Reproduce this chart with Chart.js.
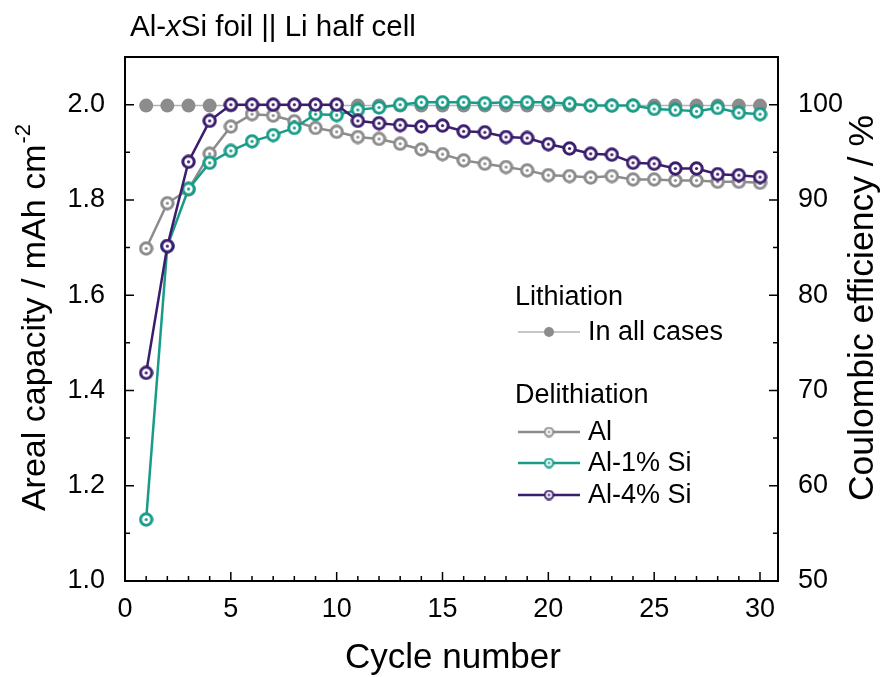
<!DOCTYPE html>
<html>
<head>
<meta charset="utf-8">
<script src="https://cdn.jsdelivr.net/npm/chart.js@4.4.1/dist/chart.umd.min.js"></script>
<style>
  html, body { margin: 0; padding: 0; background: #fff; }
  #wrap { width: 885px; height: 677px; }
</style>
</head>
<body>
<div id="wrap"><canvas id="capchart"></canvas></div>
<script>
// cycle index
var cycles = [1, 2, 3, 4, 5, 6, 7, 8, 9, 10, 11, 12, 13, 14, 15,
              16, 17, 18, 19, 20, 21, 22, 23, 24, 25, 26, 27, 28, 29, 30];

// areal capacity, mAh cm-2 (lithiation is the same for every foil)
var lithiation = [1.998, 1.998, 1.998, 1.998, 1.998, 1.998, 1.998, 1.998, 1.998, 1.998,
                  1.998, 1.998, 1.998, 1.998, 1.998, 1.998, 1.998, 1.998, 1.998, 1.998,
                  1.998, 1.998, 1.998, 1.998, 1.998, 1.998, 1.998, 1.998, 1.998, 1.998];
var delithAl = [1.698, 1.793, 1.822, 1.897, 1.954, 1.980, 1.977, 1.965, 1.951, 1.943,
                1.932, 1.928, 1.918, 1.906, 1.896, 1.883, 1.876, 1.869, 1.862, 1.852,
                1.850, 1.847, 1.850, 1.843, 1.843, 1.841, 1.841, 1.838, 1.838, 1.836];
var delithAl1Si = [1.129, 1.703, 1.823, 1.878, 1.903, 1.923, 1.936, 1.951, 1.980, 1.978,
                   1.989, 1.994, 2.000, 2.005, 2.005, 2.005, 2.003, 2.005, 2.005, 2.005,
                   2.002, 1.998, 1.998, 1.998, 1.991, 1.989, 1.986, 1.993, 1.983, 1.980];
var delithAl4Si = [1.437, 1.703, 1.880, 1.966, 2.000, 2.000, 2.000, 2.000, 2.000, 2.000,
                   1.966, 1.961, 1.957, 1.954, 1.956, 1.944, 1.942, 1.932, 1.930, 1.917,
                   1.908, 1.897, 1.895, 1.878, 1.876, 1.866, 1.866, 1.854, 1.852, 1.848];

var GREY = '#8c8c8c';
var LIGHT_GREY = '#b3b3b3';
var TEAL = '#189c87';
var PURPLE = '#3b1d6e';
var FONT = '"Liberation Sans", Arial, sans-serif';

// open ring with a small dot in the middle
function ringMarker(color, size, lw) {
    var c = document.createElement('canvas');
    c.width = size; c.height = size;
    var g = c.getContext('2d');
    var r = size / 2;
    g.beginPath();
    g.arc(r, r, r - lw / 2 - 0.3, 0, Math.PI * 2);
    g.fillStyle = '#fff';
    g.fill();
    g.lineWidth = lw;
    g.strokeStyle = color;
    g.stroke();
    g.beginPath();
    g.arc(r, r, size > 12 ? 1.6 : 1.2, 0, Math.PI * 2);
    g.fillStyle = color;
    g.fill();
    return c;
}

function pts(values) {
    return cycles.map(function (c, i) { return { x: c, y: values[i] }; });
}

var markerAl = ringMarker(GREY, 15, 3);
var markerAl1 = ringMarker(TEAL, 15, 3);
var markerAl4 = ringMarker(PURPLE, 15, 3);

// frame, inward ticks, titles and the grouped legend
var decorations = {
    id: 'decorations',
    afterDraw: function (chart) {
        var ctx = chart.ctx;
        var a = chart.chartArea;
        var x = chart.scales.x, y = chart.scales.y, y2 = chart.scales.y2;
        var v, p, len;
        ctx.save();
        ctx.strokeStyle = '#000';
        ctx.lineWidth = 2;
        ctx.strokeRect(a.left, a.top, a.right - a.left, a.bottom - a.top);

        ctx.lineWidth = 1.5;
        ctx.beginPath();
        for (v = 0; v <= 30; v++) {
            p = x.getPixelForValue(v);
            len = v % 5 === 0 ? 9 : 5;
            ctx.moveTo(p, a.bottom); ctx.lineTo(p, a.bottom - len);
        }
        for (v = 10; v <= 21; v++) {
            p = y.getPixelForValue(v / 10);
            len = v % 2 === 0 ? 9 : 5;
            ctx.moveTo(a.left, p); ctx.lineTo(a.left + len, p);
        }
        for (v = 50; v <= 105; v += 5) {
            p = y2.getPixelForValue(v);
            len = v % 10 === 0 ? 9 : 5;
            ctx.moveTo(a.right, p); ctx.lineTo(a.right - len, p);
        }
        ctx.stroke();

        ctx.fillStyle = '#000';
        ctx.textBaseline = 'alphabetic';
        ctx.textAlign = 'left';

        // panel title with italic x
        var tx = 130;
        ctx.font = '29.5px ' + FONT;
        ctx.fillText('Al-', tx, 36); tx += ctx.measureText('Al-').width;
        ctx.font = 'italic 29.5px ' + FONT;
        ctx.fillText('x', tx, 36); tx += ctx.measureText('x').width;
        ctx.font = '29.5px ' + FONT;
        ctx.fillText('Si foil || Li half cell', tx, 36);

        // x title
        ctx.font = '35px ' + FONT;
        ctx.textAlign = 'center';
        ctx.fillText('Cycle number', 453, 668);

        // left title with superscript
        ctx.save();
        ctx.translate(45, 318);
        ctx.rotate(-Math.PI / 2);
        ctx.font = '34px ' + FONT;
        var main = 'Areal capacity / mAh cm';
        var mw = ctx.measureText(main).width;
        ctx.font = '22px ' + FONT;
        var sw = ctx.measureText('-2').width;
        var sx = -(mw + sw) / 2;
        ctx.textAlign = 'left';
        ctx.font = '34px ' + FONT;
        ctx.fillText(main, sx, 0);
        ctx.font = '22px ' + FONT;
        ctx.fillText('-2', sx + mw + 1, -15);
        ctx.restore();

        // right title
        ctx.save();
        ctx.translate(873, 308);
        ctx.rotate(-Math.PI / 2);
        ctx.font = '35.5px ' + FONT;
        ctx.textAlign = 'center';
        ctx.fillText('Coulombic efficiency / %', 0, 0);
        ctx.restore();

        // legend
        ctx.font = '27px ' + FONT;
        ctx.textAlign = 'left';
        ctx.fillText('Lithiation', 515, 305);
        ctx.fillText('Delithiation', 515, 403);

        function sample(yy, color, lw, marker, label) {
            ctx.strokeStyle = color;
            ctx.lineWidth = lw;
            ctx.beginPath();
            ctx.moveTo(518, yy); ctx.lineTo(580, yy);
            ctx.stroke();
            if (marker) {
                ctx.drawImage(marker, 549 - marker.width / 2, yy - marker.height / 2);
            } else {
                ctx.beginPath();
                ctx.arc(549, yy, 5, 0, Math.PI * 2);
                ctx.fillStyle = GREY;
                ctx.fill();
            }
            ctx.fillStyle = '#000';
            ctx.textBaseline = 'middle';
            ctx.fillText(label, 588, yy + 1);
            ctx.textBaseline = 'alphabetic';
        }
        sample(332, LIGHT_GREY, 1.5, null, 'In all cases');
        sample(432, GREY, 2.5, ringMarker(GREY, 11, 2), 'Al');
        sample(463, TEAL, 2.5, ringMarker(TEAL, 11, 2), 'Al-1% Si');
        sample(495, PURPLE, 2.5, ringMarker(PURPLE, 11, 2), 'Al-4% Si');
        ctx.restore();
    }
};

var ctx = document.getElementById('capchart').getContext('2d');
var capChart = new Chart(ctx, {
    type: 'line',
    data: {
        datasets: [{
            label: 'Lithiation',
            data: pts(lithiation),
            order: 4,
            borderColor: LIGHT_GREY,
            borderWidth: 1.5,
            pointStyle: 'circle',
            pointRadius: 7,
            pointBackgroundColor: GREY,
            pointBorderWidth: 0
        }, {
            label: 'Al',
            data: pts(delithAl),
            order: 3,
            borderColor: GREY,
            borderWidth: 2.5,
            pointStyle: markerAl
        }, {
            label: 'Al-1% Si',
            data: pts(delithAl1Si),
            order: 2,
            borderColor: TEAL,
            borderWidth: 2.5,
            pointStyle: markerAl1
        }, {
            label: 'Al-4% Si',
            data: pts(delithAl4Si),
            order: 1,
            borderColor: PURPLE,
            borderWidth: 2.5,
            pointStyle: markerAl4
        }]
    },
    options: {
        responsive: true,
        maintainAspectRatio: false,
        animation: false,
        layout: { padding: { top: 57, left: 0, right: 0, bottom: 0 } },
        plugins: {
            legend: { display: false },
            tooltip: { enabled: false }
        },
        scales: {
            x: {
                type: 'linear',
                min: 0,
                max: 30.85,
                afterFit: function (s) { s.height = 96; },
                grid: { display: false },
                border: { display: false },
                ticks: {
                    stepSize: 5,
                    includeBounds: false,
                    padding: 4,
                    color: '#000',
                    font: { family: FONT, size: 27 }
                }
            },
            y: {
                position: 'left',
                min: 1.0,
                max: 2.1,
                afterFit: function (s) { s.width = 125; },
                grid: { display: false },
                border: { display: false },
                ticks: {
                    stepSize: 0.2,
                    includeBounds: false,
                    padding: 12,
                    color: '#000',
                    font: { family: FONT, size: 27 },
                    callback: function (v) { return v.toFixed(1); }
                }
            },
            y2: {
                position: 'right',
                min: 50,
                max: 105,
                afterFit: function (s) { s.width = 107; },
                grid: { display: false },
                border: { display: false },
                ticks: {
                    stepSize: 10,
                    includeBounds: false,
                    padding: 12,
                    color: '#000',
                    font: { family: FONT, size: 27 }
                }
            }
        }
    },
    plugins: [decorations]
});
</script>
</body>
</html>
